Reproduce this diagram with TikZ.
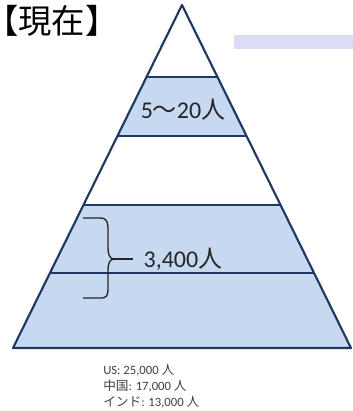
\documentclass[tikz,border=0pt]{standalone}
\usepackage{fontspec}
\setmainfont{Carlito}
\newfontfamily\jpfont{Noto Sans CJK JP}
\usetikzlibrary{positioning, calc}
\definecolor{bandblue}{RGB}{198, 217, 240}
\definecolor{edgenavy}{RGB}{31, 56, 96}
\definecolor{barlavender}{RGB}{220, 220, 247}
\definecolor{notegray}{RGB}{64, 64, 64}

\begin{document}
\begin{tikzpicture}[x=0.75pt, y=-0.75pt,
    edge/.style={draw=edgenavy, line width=1.6pt},
    bandlabel/.style={font=\fontsize{18}{20}\selectfont, text=black!85, inner sep=1pt}]
        \useasboundingbox (0,0) rectangle (353,411);
        % Pyramid corners
        \coordinate (apex) at (182,5);
        \coordinate (baseL) at (13,348);
        \coordinate (baseR) at (351,348);
        \foreach \n/\t in {1/0.21, 2/0.382, 3/0.583, 4/0.781} {
          \coordinate (L\n) at ($(apex)!\t!(baseL)$);
          \coordinate (R\n) at ($(apex)!\t!(baseR)$);
        }
        % Bands
        \fill[bandblue] (L1) -- (R1) -- (R2) -- (L2) -- cycle;
        \fill[bandblue] (L3) -- (R3) -- (baseR) -- (baseL) -- cycle;
        \draw[edge, line join=round] (apex) -- (baseR) -- (baseL) -- cycle;
        \foreach \n in {1, 2, 3, 4}
          \draw[edge] (L\n) -- (R\n);
        % Title and bar
        \node[anchor=west, inner sep=0pt, font=\jpfont\fontsize{25}{27}\selectfont]
              (title) at (-15,21) {【現在】};
        \fill[barlavender] (234,35) rectangle (353,49);
        % Labels
        \node[bandlabel] (top) at (183,110) {5{\jpfont 〜}20{\jpfont 人}};
        \draw[black!85, line width=1pt]
              (83,218) -- (100,218) .. controls (107,218) and (108,222) .. (108,230)
              -- (108,248) .. controls (108,255) and (110,259) .. (114,259)
              .. controls (110,259) and (108,263) .. (108,270)
              -- (108,288) .. controls (108,296) and (107,298) .. (100,298) -- (83,298);
        \coordinate (tip) at (114,259);
        \node[bandlabel, anchor=west] (staff) at (142,259) {3,400{\jpfont 人}};
        \draw[black!85, line width=1pt] (tip) -- ([xshift=-7pt]staff.west);
        % Note
        \node[anchor=north west, align=left, inner sep=0pt, text=notegray,
              font=\fontsize{9.5}{12}\selectfont] (note) at (103,364)
              {US: 25,000 {\jpfont 人}\\ {\jpfont 中国}: 17,000 {\jpfont 人}\\ {\jpfont インド}: 13,000 {\jpfont 人}};
      \end{tikzpicture}
\end{document}
